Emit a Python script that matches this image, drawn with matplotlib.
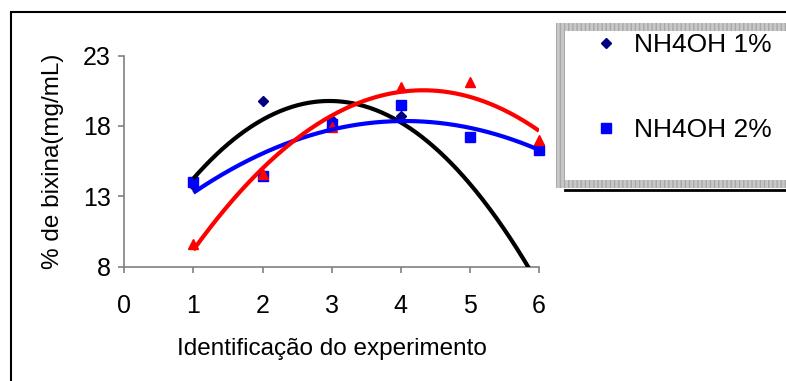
import numpy as np
import matplotlib.pyplot as plt
from matplotlib.patches import Rectangle
from matplotlib.lines import Line2D

plt.rcParams['font.family'] = ['Liberation Sans', 'DejaVu Sans']

W, H = 786, 381

experimentos = [1, 2, 3, 4, 5, 6]
nh4oh_1 = [13.8, 19.8, 18.4, 18.7]          # medido só nos experimentos 1 a 4
nh4oh_2 = [14.0, 14.4, 18.1, 19.5, 17.2, 16.3]
serie_3 = [9.6, 14.6, 17.95, 20.75, 21.1, 17.0]
x_ticks = [0, 1, 2, 3, 4, 5, 6]
y_ticks = [8, 13, 18, 23]


def fx(px):
    return px / W


def fy(py):
    return 1 - py / H


def tendencia(x, y):
    # polinomio de 2a ordem, como a linha de tendencia do Excel
    coef = np.polyfit(x, y, 2)
    xs = np.linspace(min(x), 6, 300)
    return xs, np.polyval(coef, xs)


fig = plt.figure(figsize=(W / 100, H / 100), dpi=100)
ax = fig.add_axes([fx(124.3), fy(266.5), fx(539) - fx(124.3), fy(55.5) - fy(266.5)])

series = [
    (experimentos[:len(nh4oh_1)], nh4oh_1, 'D', 5.4, '#000080', 'black'),
    (experimentos, nh4oh_2, 's', 7.8, '#0000ff', '#0000ff'),
    (experimentos, serie_3, '^', 7.5, '#ff0000', '#ff0000'),
]
for x, y, mk, ms, cor, cor_linha in series:
    ax.plot(x, y, linestyle='none', marker=mk, markersize=ms, color=cor,
            clip_on=False, zorder=3)
    xs, ys = tendencia(x, y)
    ax.plot(xs, ys, color=cor_linha, lw=3, zorder=4, solid_capstyle='butt')

ax.set_xlim(0, 6)
ax.set_ylim(8, 23)
ax.set_xticks(x_ticks)
ax.set_yticks(y_ticks)
for s in ['top', 'right']:
    ax.spines[s].set_visible(False)
for s in ['left', 'bottom']:
    ax.spines[s].set_color('#808080')
    ax.spines[s].set_linewidth(1.2)
ax.tick_params(axis='both', direction='out', length=4.5, width=1.2, color='#808080',
               labelsize=18)
ax.tick_params(axis='x', pad=15)
ax.tick_params(axis='y', pad=5)
ax.set_xlabel('Identificação do experimento', fontsize=17.5, labelpad=15)
ax.set_ylabel('% de bixina(mg/mL)', fontsize=17.5, labelpad=14)

# moldura externa do grafico (cortada a direita e embaixo)
fig.add_artist(Rectangle((fx(11), -0.1), 1.2, fy(12) + 0.1, transform=fig.transFigure,
                         fill=False, edgecolor='black', lw=1.5))

# caixa da legenda com borda cinza hachurada e sombra
fig.add_artist(Rectangle((fx(556), fy(188)), 1.0, fy(22.7) - fy(188), transform=fig.transFigure,
                         facecolor='#c8c8c8', edgecolor='#a8a8a8', hatch='||||', lw=0))
fig.add_artist(Rectangle((fx(565), fy(180)), 1.0, fy(30.7) - fy(180), transform=fig.transFigure,
                         facecolor='white', edgecolor='none'))
fig.add_artist(Line2D([fx(565), 1.0], [fy(190), fy(190)], transform=fig.transFigure,
                      color='black', lw=2))

handles = [Line2D([], [], linestyle='none', marker='D', markersize=5.4, color='#000080'),
           Line2D([], [], linestyle='none', marker='s', markersize=7.8, color='#0000ff')]
fig.legend(handles, ['NH4OH 1%', 'NH4OH 2%'], loc='upper left',
           bbox_to_anchor=(fx(580), fy(20)), frameon=False, fontsize=19,
           labelspacing=2.3, handlelength=1.0, handletextpad=0.55, borderpad=0)

fig.savefig('out.png', dpi=100)
